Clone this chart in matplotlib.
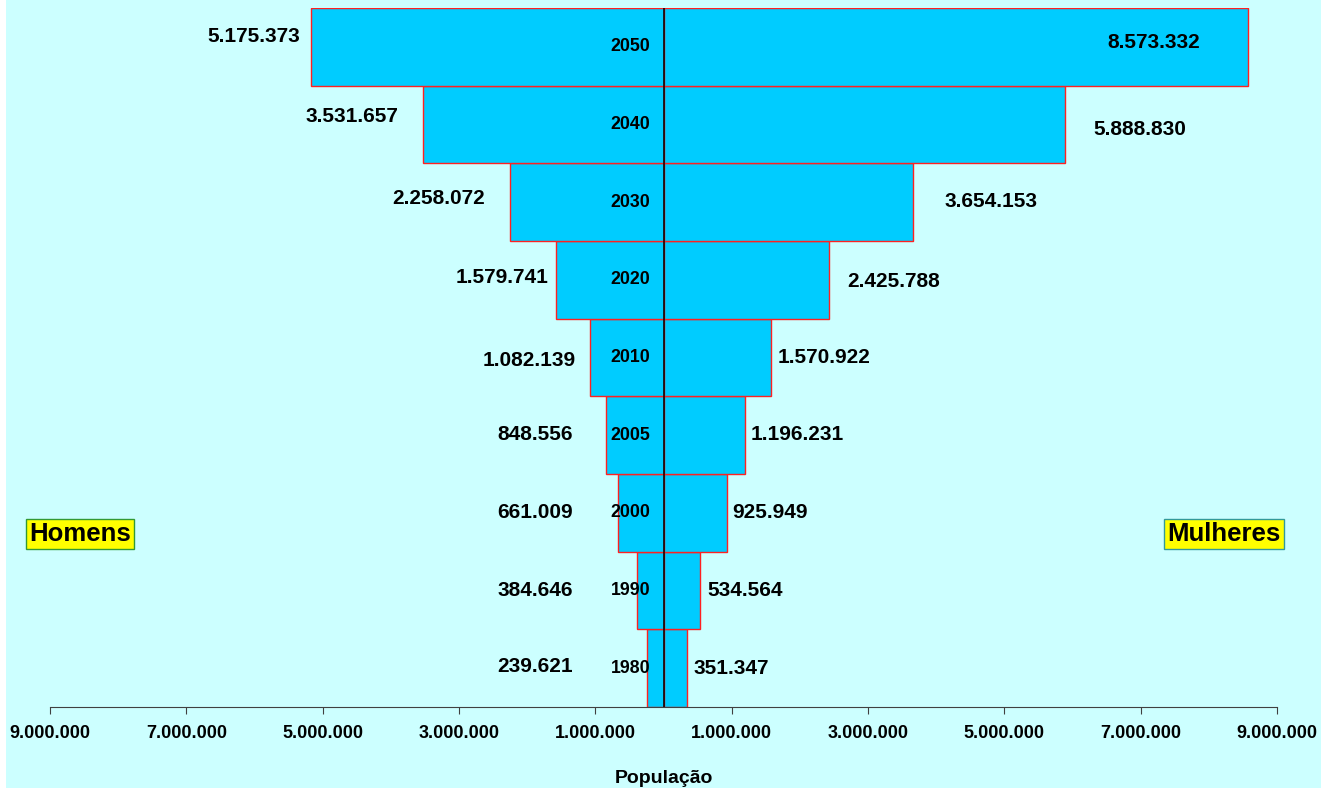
import matplotlib.pyplot as plt
from matplotlib.patches import Rectangle
from matplotlib.ticker import FuncFormatter

plt.rcParams["font.family"] = ["Liberation Sans", "DejaVu Sans"]
plt.rcParams["font.weight"] = "bold"

years = ["1980", "1990", "2000", "2005", "2010", "2020", "2030", "2040", "2050"]
homens = [239621, 384646, 661009, 848556, 1082139, 1579741, 2258072, 3531657, 5175373]
mulheres = [351347, 534564, 925949, 1196231, 1570922, 2425788, 3654153, 5888830, 8573332]

# where the value labels sit (data units on x, fraction of a bar on y)
homens_label_x = [-1.328e6, -1.328e6, -1.328e6, -1.328e6, -1.284e6, -1.694e6, -2.618e6, -3.895e6, -5.332e6]
mulheres_label_x = [0.447e6, 0.638e6, 1.005e6, 1.284e6, 1.680e6, 2.692e6, 4.129e6, 6.300e6, 6.506e6]
homens_label_dy = [0.02, 0.0, 0.0, 0.01, -0.04, 0.03, 0.05, 0.10, 0.13]
mulheres_label_dy = [0.0, 0.0, 0.0, 0.01, 0.0, -0.02, 0.01, -0.06, 0.06]

ticks = [-9e6, -7e6, -5e6, -3e6, -1e6, 1e6, 3e6, 5e6, 7e6, 9e6]

BG = "#CCFFFF"
BAR = "#00CCFF"


def fmt_pt(v):
    return f"{int(round(abs(v))):,}".replace(",", ".")


fig = plt.figure(figsize=(13.29, 7.88), dpi=100)
fig.patch.set_facecolor("white")
fig.patches.append(Rectangle((6 / 1329, 0), 1315 / 1329, 1, transform=fig.transFigure,
                             facecolor=BG, edgecolor="none", zorder=-10))

ax = fig.add_axes([50 / 1329, 1 - 707 / 788, 1227 / 1329, 699 / 788])
ax.set_facecolor(BG)

pos = list(range(len(years)))
ax.barh(pos, [-h for h in homens], height=1.0, color=BAR, edgecolor="#FF2020", linewidth=1, zorder=2)
ax.barh(pos, mulheres, height=1.0, color=BAR, edgecolor="#FF2020", linewidth=1, zorder=2)
ax.axvline(0, color="black", linewidth=1.1, zorder=3)

for i, y in enumerate(years):
    ax.text(-0.198e6, i, y, ha="right", va="center", fontsize=12.8, fontweight="bold", zorder=4)
    ax.text(homens_label_x[i], i + homens_label_dy[i], fmt_pt(homens[i]), ha="right", va="center",
            fontsize=15, fontweight="bold", zorder=4)
    ax.text(mulheres_label_x[i], i + mulheres_label_dy[i], fmt_pt(mulheres[i]), ha="left", va="center",
            fontsize=15, fontweight="bold", zorder=4)

ax.set_xlim(-9e6, 9e6)
ax.set_ylim(-0.5, len(years) - 0.5)
ax.set_xticks(ticks)
ax.xaxis.set_major_formatter(FuncFormatter(lambda v, p: fmt_pt(v)))
ax.set_yticks([])
for s in ["top", "left", "right"]:
    ax.spines[s].set_visible(False)
ax.spines["bottom"].set_color("#404040")
ax.tick_params(axis="x", direction="out", length=5, color="#404040", labelsize=13, pad=8)
for lbl in ax.get_xticklabels():
    lbl.set_fontweight("bold")
ax.set_xlabel("População", fontsize=14, fontweight="bold", labelpad=20)

fig.text(80 / 1329, 1 - 534 / 788, "Homens", ha="center", va="center", fontsize=18.5, fontweight="bold",
         bbox=dict(boxstyle="square,pad=0.12", facecolor="yellow", edgecolor="#339933", linewidth=1))
fig.text(1224 / 1329, 1 - 534 / 788, "Mulheres", ha="center", va="center", fontsize=18.5, fontweight="bold",
         bbox=dict(boxstyle="square,pad=0.12", facecolor="yellow", edgecolor="#339999", linewidth=1))

fig.savefig("out.png", dpi=100, facecolor=fig.get_facecolor())
